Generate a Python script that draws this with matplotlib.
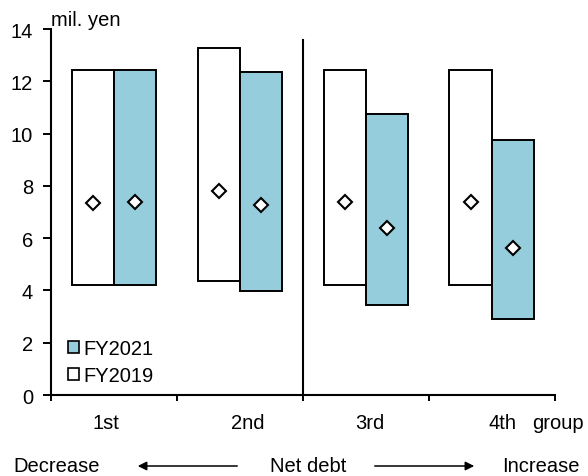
import matplotlib
matplotlib.use("Agg")
import matplotlib.pyplot as plt
from matplotlib.patches import Patch, FancyArrowPatch

plt.rcParams['font.family'] = ['Liberation Sans', 'DejaVu Sans']

groups = ["1st", "2nd", "3rd", "4th"]

# FY2019: low / high / diamond marker
fy19_low = [4.21, 4.35, 4.21, 4.21]
fy19_high = [12.44, 13.27, 12.44, 12.44]
fy19_mid = [7.34, 7.79, 7.39, 7.39]

# FY2021
fy21_low = [4.21, 3.98, 3.45, 2.91]
fy21_high = [12.44, 12.36, 10.75, 9.77]
fy21_mid = [7.37, 7.28, 6.38, 5.61]

blue = '#95CDDC'
fs = 14.5

fig = plt.figure(figsize=(5.88, 4.77), dpi=100)
ax = fig.add_axes([0.0867, 0.1698, 0.8571, 0.7673])

x = list(range(len(groups)))
w = 0.337
x19 = [i - w / 2 for i in x]
x21 = [i + w / 2 for i in x]

ax.bar(x19, [h - l for h, l in zip(fy19_high, fy19_low)], bottom=fy19_low,
       width=w, color='white', edgecolor='black', linewidth=1.4, zorder=2)
ax.bar(x21, [h - l for h, l in zip(fy21_high, fy21_low)], bottom=fy21_low,
       width=w, color=blue, edgecolor='black', linewidth=1.4, zorder=2)

ax.plot(x19, fy19_mid, 'D', mfc='white', mec='black', ms=7, mew=1.5, zorder=3)
ax.plot(x21, fy21_mid, 'D', mfc='white', mec='black', ms=7, mew=1.5, zorder=3)

# separator between 2nd and 3rd group
ax.plot([1.5, 1.5], [0, 13.58], color='black', lw=1.5, zorder=1)

ax.set_xlim(-0.5, 3.5)
ax.set_ylim(0, 14)
ax.set_yticks(range(0, 15, 2))
ax.set_xticks([-0.5, 0.5, 1.5, 2.5, 3.5])
ax.set_xticklabels([])
ax.tick_params(axis='y', direction='out', length=6, width=1.4, pad=7, labelsize=fs)
ax.tick_params(axis='x', direction='out', length=4, width=1.4)
for s in ['top', 'right']:
    ax.spines[s].set_visible(False)
for s in ['left', 'bottom']:
    ax.spines[s].set_linewidth(1.5)

ax.text(0.0, 1.0, "mil. yen", transform=ax.transAxes, fontsize=fs, va='bottom', ha='left')

# group labels
label_x = [-0.06, 1.06, 2.03, 3.08]
for lx, g in zip(label_x, groups):
    ax.text(lx, -1.05, g, fontsize=fs, ha='center', va='center')
ax.text(3.32, -1.05, "group", fontsize=fs, ha='left', va='center')

handles = [Patch(facecolor=blue, edgecolor='black', linewidth=1.2),
           Patch(facecolor='white', edgecolor='black', linewidth=1.2)]
ax.legend(handles, ["FY2021", "FY2019"], loc='lower left', bbox_to_anchor=(0.01, -0.005),
          frameon=False, fontsize=fs, handlelength=0.55, handleheight=0.55,
          handletextpad=0.2, labelspacing=0.4, borderaxespad=0.2)

# bottom direction line
ty = 1 - 467 / 477
fig.text(13 / 588, ty, "Decrease", fontsize=fs, ha='left', va='center')
fig.text(270 / 588, ty, "Net debt", fontsize=fs, ha='left', va='center')
fig.text(502 / 588, ty, "Increase", fontsize=fs, ha='left', va='center')
fig.add_artist(FancyArrowPatch((240 / 588, ty), (135 / 588, ty),
               transform=fig.transFigure, arrowstyle='-|>', mutation_scale=13,
               color='black', lw=1.1))
fig.add_artist(FancyArrowPatch((372 / 588, ty), (477 / 588, ty),
               transform=fig.transFigure, arrowstyle='-|>', mutation_scale=13,
               color='black', lw=1.1))

fig.savefig("out.png", dpi=100)
